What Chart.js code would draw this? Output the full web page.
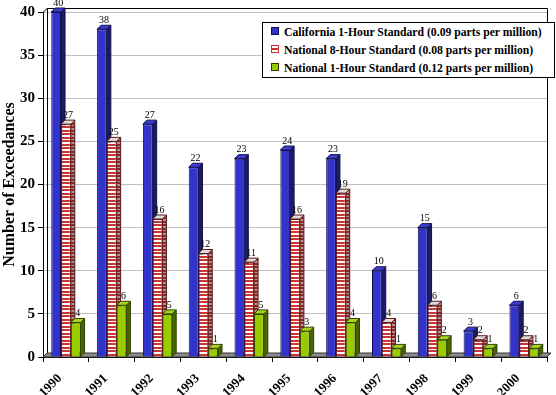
<!DOCTYPE html>
<html lang="en">
<head>
<meta charset="UTF-8">
<title>Ozone Exceedances</title>
<script src="https://cdn.jsdelivr.net/npm/chart.js"></script>
<style>
  body { margin: 0; background: #fff; }
  #wrap { position: relative; width: 556px; height: 395px; }
  #legend {
    position: absolute; left: 262px; top: 22px; width: 291px; height: 54px;
    border: 1px solid #000; background: #fff;
    font: bold 11.7px "Liberation Serif", "Times New Roman", serif; color: #000;
  }
  .item { position: absolute; left: 8px; white-space: nowrap; line-height: 14px; }
  .sw { display: inline-block; width: 6px; height: 6px; margin-right: 5px; vertical-align: 1px; border: 1px solid #222; }
</style>
</head>
<body>
<div id="wrap">
  <canvas id="chart" width="556" height="395"></canvas>
  <div id="legend"></div>
</div>
<script>
const years = ['1990', '1991', '1992', '1993', '1994', '1995', '1996', '1997', '1998', '1999', '2000'];
const california1h = [40, 38, 27, 22, 23, 24, 23, 10, 15, 3, 6];
const national8h = [27, 25, 16, 12, 11, 16, 19, 4, 6, 2, 2];
const national1h = [4, 6, 5, 1, 5, 3, 4, 1, 2, 1, 1];
const seriesNames = [
  'California 1-Hour Standard (0.09 parts per million)',
  'National 8-Hour Standard (0.08 parts per million)',
  'National 1-Hour Standard (0.12 parts per million)'
];

const depth = 4;
const serif = '"Liberation Serif", "Times New Roman", serif';

function stripes(c1, c2) {
  const p = document.createElement('canvas');
  p.width = 4; p.height = 7;
  const g = p.getContext('2d');
  g.fillStyle = c2; g.fillRect(0, 0, 4, 7);
  g.fillStyle = c1; g.fillRect(0, 0, 4, 2); g.fillRect(0, 4, 4, 2);
  return g.createPattern(p, 'repeat');
}

const sideColors = ['#1c1c66', stripes('#8a2a2a', '#b89090'), '#4a6400'];
const topColors = ['#3c3cd0', '#dcdcdc', '#a8d420'];
const edgeColors = ['#10104a', '#5a1a1a', '#2e4000'];

// side and top faces, drawn before the library draws the front faces
const bars3d = {
  id: 'bars3d',
  beforeDatasetsDraw(chart) {
    const ctx = chart.ctx;
    const a = chart.chartArea;
    ctx.save();
    // back wall frame
    ctx.strokeStyle = '#000';
    ctx.lineWidth = 1;
    ctx.beginPath();
    ctx.moveTo(a.left + depth + 0.5, a.bottom - depth);
    ctx.lineTo(a.left + depth + 0.5, a.top - depth + 0.5);
    ctx.lineTo(a.right + 0.5, a.top - depth + 0.5);
    ctx.lineTo(a.right + 0.5, a.bottom - depth);
    ctx.moveTo(a.left + 0.5, a.top);
    ctx.lineTo(a.left + depth + 0.5, a.top - depth);
    ctx.stroke();
    // floor
    ctx.beginPath();
    ctx.moveTo(a.left, a.bottom);
    ctx.lineTo(a.left + depth, a.bottom - depth);
    ctx.lineTo(a.right + depth, a.bottom - depth);
    ctx.lineTo(a.right, a.bottom);
    ctx.closePath();
    ctx.fillStyle = '#8c8c8c';
    ctx.fill();
    ctx.strokeStyle = '#333';
    ctx.stroke();

    const metas = chart.data.datasets.map((_, i) => chart.getDatasetMeta(i));
    years.forEach((_, j) => {
      metas.forEach((meta, i) => {
        const bar = meta.data[j];
        const l = bar.x - bar.width / 2, r = bar.x + bar.width / 2;
        const t = bar.y, b = bar.base;
        ctx.strokeStyle = edgeColors[i];
        ctx.beginPath();
        ctx.moveTo(r, t);
        ctx.lineTo(r + depth, t - depth);
        ctx.lineTo(r + depth, b - depth);
        ctx.lineTo(r, b);
        ctx.closePath();
        ctx.fillStyle = sideColors[i];
        ctx.fill();
        ctx.stroke();
        ctx.beginPath();
        ctx.moveTo(l, t);
        ctx.lineTo(l + depth, t - depth);
        ctx.lineTo(r + depth, t - depth);
        ctx.lineTo(r, t);
        ctx.closePath();
        ctx.fillStyle = topColors[i];
        ctx.fill();
        ctx.stroke();
      });
    });
    ctx.restore();
  },
  afterDatasetsDraw(chart) {
    const ctx = chart.ctx;
    ctx.save();
    ctx.font = '10px ' + serif;
    ctx.fillStyle = '#000';
    ctx.textAlign = 'center';
    ctx.textBaseline = 'bottom';
    chart.data.datasets.forEach((ds, i) => {
      chart.getDatasetMeta(i).data.forEach((bar, j) => {
        ctx.fillText(String(ds.data[j]), bar.x + depth / 2, bar.y - depth);
      });
    });
    ctx.restore();
  }
};

const datasets = [
  { label: seriesNames[0], data: california1h, backgroundColor: '#3333cc' },
  { label: seriesNames[1], data: national8h, backgroundColor: stripes('#cc3333', '#ffffff') },
  { label: seriesNames[2], data: national1h, backgroundColor: '#99cc00' }
].map((d, i) => Object.assign(d, {
  borderColor: edgeColors[i],
  borderWidth: 1,
  barPercentage: 1,
  categoryPercentage: 0.64
}));

new Chart(document.getElementById('chart'), {
  type: 'bar',
  data: { labels: years, datasets: datasets },
  options: {
    responsive: false,
    animation: false,
    layout: { padding: { top: 11, right: 9, left: 0, bottom: 0 } },
    plugins: {
      legend: { display: false },
      tooltip: { enabled: false }
    },
    scales: {
      x: {
        afterFit(scale) { scale.height = 38; },
        grid: { drawOnChartArea: false, tickLength: 5, color: '#000' },
        border: { color: '#000' },
        ticks: {
          autoSkip: false, minRotation: 45, maxRotation: 45,
          labelOffset: -6, padding: 9,
          color: '#000', font: { family: serif, size: 13, weight: 'bold' }
        }
      },
      y: {
        min: 0, max: 40,
        afterFit(scale) { scale.width = 43; },
        grid: { color: '#c0c0c0', tickColor: '#000', tickLength: 5 },
        border: { color: '#000' },
        ticks: {
          stepSize: 5, padding: 3,
          color: '#000', font: { family: serif, size: 15, weight: 'bold' }
        },
        title: {
          display: true, text: 'Number of Exceedances', padding: 0,
          color: '#000', font: { family: serif, size: 16, weight: 'bold' }
        }
      }
    }
  },
  plugins: [bars3d]
});

// legend box
const legend = document.getElementById('legend');
const swatches = [
  'background:#3333cc;border-color:#10104a',
  'background:linear-gradient(#fff 0 2px,#cc3333 2px 4px,#fff 4px);border-color:#cc3333',
  'background:#99cc00;border-color:#2e4000'
];
seriesNames.forEach((name, i) => {
  const row = document.createElement('div');
  row.className = 'item';
  row.style.top = (3 + i * 18) + 'px';
  row.innerHTML = '<span class="sw" style="' + swatches[i] + '"></span>';
  row.appendChild(document.createTextNode(name));
  legend.appendChild(row);
});
</script>
</body>
</html>
